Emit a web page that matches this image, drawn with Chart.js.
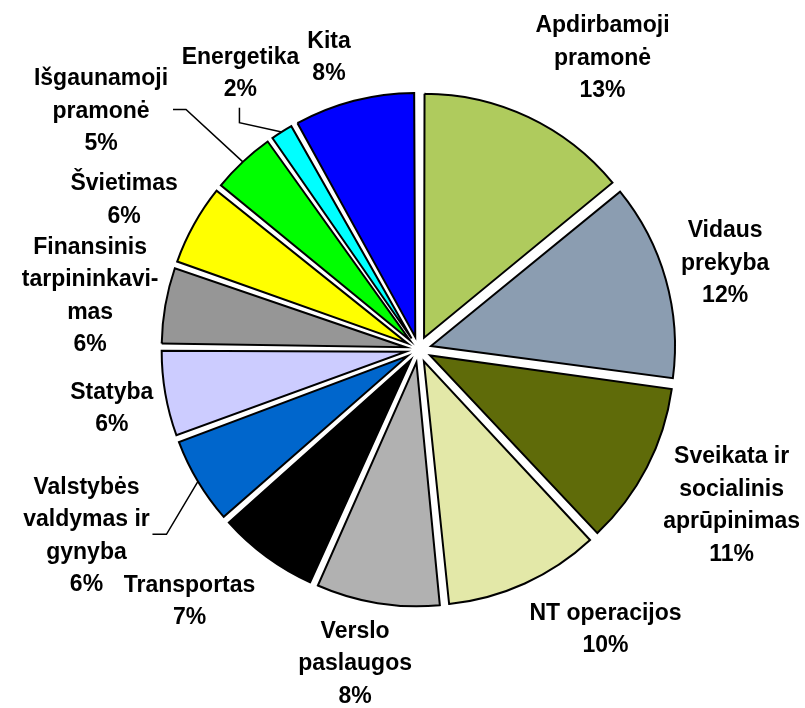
<!DOCTYPE html>
<html>
<head>
<meta charset="utf-8">
<script src="https://cdn.jsdelivr.net/npm/chart.js@4.4.0/dist/chart.umd.min.js"></script>
<style>
  html, body { margin: 0; padding: 0; background: #fff; }
  #wrap { width: 805px; height: 708px; position: relative; }
</style>
</head>
<body>
<div id="wrap"><canvas id="pie"></canvas></div>
<script>
// sectors, clockwise from 12 o'clock
const sectors = ['Apdirbamoji pramonė', 'Vidaus prekyba', 'Sveikata ir socialinis aprūpinimas',
  'NT operacijos', 'Verslo paslaugos', 'Transportas', 'Valstybės valdymas ir gynyba', 'Statyba',
  'Finansinis tarpininkavimas', 'Švietimas', 'Išgaunamoji pramonė', 'Energetika', 'Kita'];
// slice sizes (%)
const shares = [14.1, 13.1, 10.9, 10.4, 8.3, 6.8, 5.9, 5.8, 5.2, 5.5, 4.4, 1.7, 8.1];
// percentages printed on the labels
const shownPct = ['13%', '12%', '11%', '10%', '8%', '7%', '6%', '6%', '6%', '6%', '5%', '2%', '8%'];
// label text as it is wrapped in the picture
const labelLines = [
  ['Apdirbamoji', 'pramonė'], ['Vidaus', 'prekyba'], ['Sveikata ir', 'socialinis', 'aprūpinimas'],
  ['NT operacijos'], ['Verslo', 'paslaugos'], ['Transportas'], ['Valstybės', 'valdymas ir', 'gynyba'],
  ['Statyba'], ['Finansinis', 'tarpininkavi-', 'mas'], ['Švietimas'], ['Išgaunamoji', 'pramonė'],
  ['Energetika'], ['Kita']
];
const colours = ['#afcb5d', '#8b9db1', '#5f6b09', '#e3e8a8', '#b1b1b1', '#000000', '#0066cc',
  '#ccccff', '#969696', '#ffff00', '#00ff00', '#00ffff', '#0000ff'];

// label placement: distance from centre and turn (deg) from the slice middle
const labelDist = [346, 319, 349, 335, 319, 339, 380, 312, 333, 331, 398, 330, 307];
const labelTurn = [6.8, -0.2, -1.1, -9.5, 2.3, 6.2, 1.8, -0.7, -0.3, -1.9, -9.8, -0.5, -2.4];
// leader lines: elbow and end relative to the label centre
const leaders = [null, null, null, null, null, null, [80, 0, 66, 0], null, null, null,
  [85, 0, 72, 0], [-1, 51, -1, 36], null];
const LINE = 32.5;

// Chart.js grows the radius of exploded slices; keep them all on one circle
const evenRadius = {
  id: 'evenRadius',
  beforeDatasetsDraw(chart) {
    const meta = chart.getDatasetMeta(0);
    const R = meta.controller.outerRadius;
    meta.data.forEach(arc => {
      const push = (arc.options.offset || 0) / 4;
      const fix = 1 - Math.sin(Math.min(Math.PI, arc.circumference));
      arc.outerRadius = R - push * fix;
    });
  }
};

const sliceLabels = {
  id: 'sliceLabels',
  afterDatasetsDraw(chart) {
    const ctx = chart.ctx;
    const meta = chart.getDatasetMeta(0);
    const R = meta.controller.outerRadius;
    ctx.save();
    ctx.font = 'bold 23px "Liberation Sans", Arial, sans-serif';
    ctx.fillStyle = '#000';
    ctx.textAlign = 'center';
    ctx.textBaseline = 'middle';
    meta.data.forEach((arc, i) => {
      const mid = (arc.startAngle + arc.endAngle) / 2;
      const a = mid + labelTurn[i] * Math.PI / 180;
      const lx = arc.x + labelDist[i] * Math.cos(a);
      const ly = arc.y + labelDist[i] * Math.sin(a);
      const lines = labelLines[i].concat(shownPct[i]);
      const top = ly - (lines.length - 1) * LINE / 2 + 2;
      lines.forEach((t, k) => ctx.fillText(t, lx, top + k * LINE));
      const lead = leaders[i];
      if (lead) {
        const edge = R + (arc.options.offset || 0) / 4;
        ctx.beginPath();
        ctx.moveTo(arc.x + edge * Math.cos(mid), arc.y + edge * Math.sin(mid));
        ctx.lineTo(lx + lead[0], ly + lead[1]);
        ctx.lineTo(lx + lead[2], ly + lead[3]);
        ctx.lineWidth = 1.5;
        ctx.strokeStyle = '#000';
        ctx.stroke();
      }
    });
    ctx.restore();
  }
};

new Chart(document.getElementById('pie'), {
  type: 'pie',
  data: {
    labels: sectors,
    datasets: [{
      data: shares,
      backgroundColor: colours,
      borderColor: '#000',
      borderWidth: 2,
      borderJoinStyle: 'miter',
      offset: 52
    }]
  },
  options: {
    responsive: true,
    maintainAspectRatio: false,
    animation: false,
    events: [],
    radius: 244,
    layout: { padding: { left: 32, right: 0, top: 0, bottom: 9 } },
    plugins: {
      legend: { display: false },
      tooltip: { enabled: false }
    }
  },
  plugins: [evenRadius, sliceLabels]
});
</script>
</body>
</html>
